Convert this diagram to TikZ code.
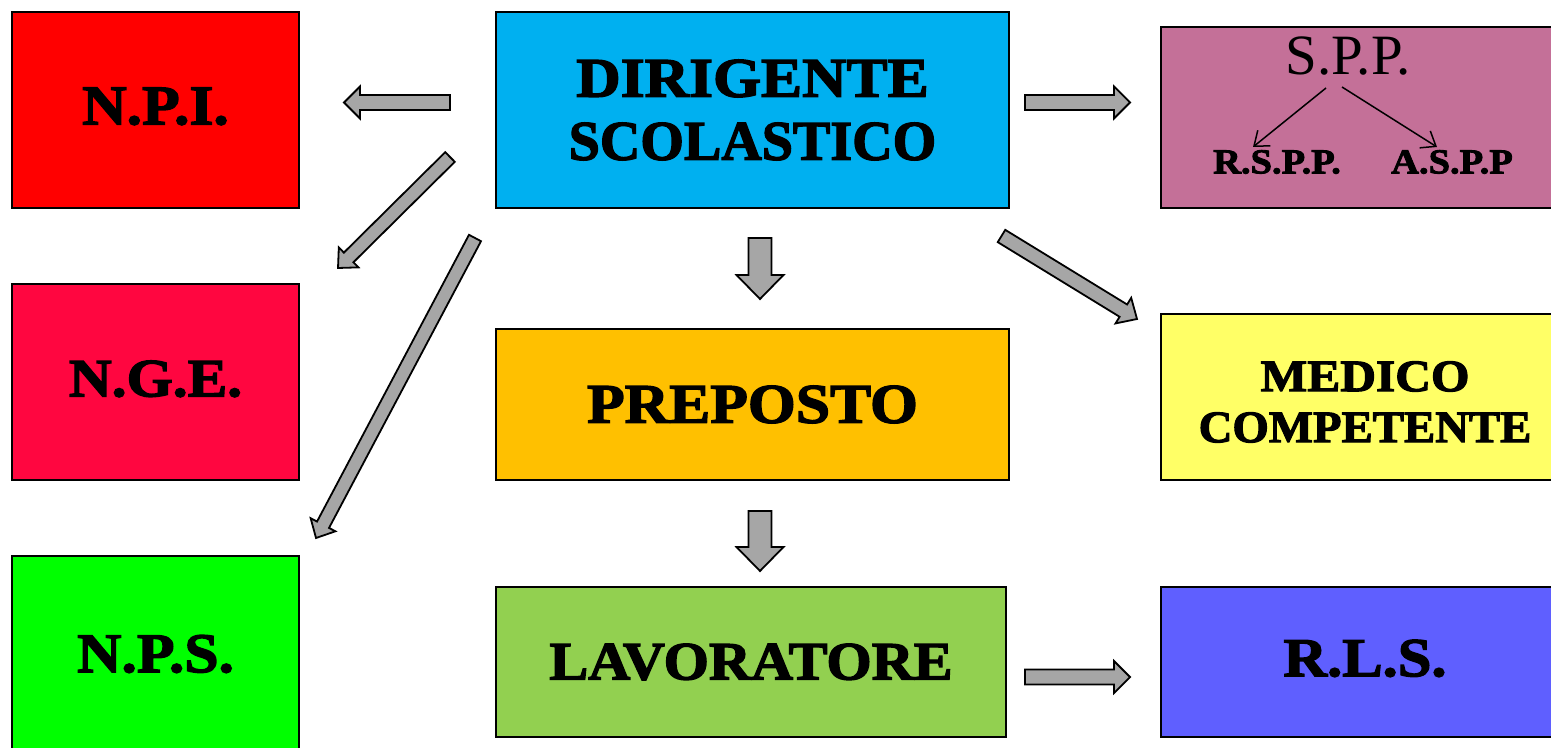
\documentclass[tikz,border=0pt]{standalone}
\usepackage{fontspec}
\setmainfont{Liberation Serif}
\newfontfamily\stencil{Liberation Serif}[UprightFont=* Bold, FakeBold=2.5, FakeStretch=1.1]
\usetikzlibrary{calc,arrows.meta}
\definecolor{cnpi}{HTML}{FF0000}
\definecolor{cnge}{HTML}{FF0640}
\definecolor{cnps}{HTML}{00FF00}
\definecolor{cdir}{HTML}{00B0F0}
\definecolor{cpre}{HTML}{FFC000}
\definecolor{clav}{HTML}{92D050}
\definecolor{cspp}{HTML}{C47098}
\definecolor{cmed}{HTML}{FFFF66}
\definecolor{crls}{HTML}{5F5FFF}
\definecolor{agray}{HTML}{A6A6A6}
\tikzset{
  box/.style={draw=black, line width=1pt, inner sep=0pt, align=center},
  stxt/.style={font=\stencil\fontsize{#1}{#1}\selectfont},
  fatarr/.style={draw=black, line width=0.9pt, fill=agray, line join=miter},
  thinarr/.style={draw=black, line width=0.75pt, -{Straight Barb[length=6.5pt,width=10pt]}}
}
% #1 start, #2 tip, #3 shaft half width, #4 head half width, #5 head length
\newcommand\fatarrow[5]{%
  \coordinate (#1-neck) at ($(#2)!#5!(#1)$);
  \draw[fatarr] ($(#1)!#3!90:(#2)$) -- ($(#1-neck)!#3!90:(#2)$) -- ($(#1-neck)!#4!90:(#2)$)
    -- (#2) -- ($(#1-neck)!#4!-90:(#2)$) -- ($(#1-neck)!#3!-90:(#2)$) -- ($(#1)!#3!-90:(#2)$) -- cycle;
}
\begin{document}
\begin{tikzpicture}[x=0.5pt,y=-0.5pt]
\useasboundingbox (0,0) rectangle (1551,748);
% boxes
\node[box, fill=cnpi, minimum width=143.5pt, minimum height=98pt, stxt=28, text depth=4pt] (npi) at (155.5,110) {N.P.I.};
\node[box, fill=cnge, minimum width=143.5pt, minimum height=98pt, stxt=27, text depth=3.5pt] (nge) at (155.5,382) {N.G.E.};
\node[box, fill=cnps, minimum width=143.5pt, minimum height=98pt, stxt=28] (nps) at (155.5,654) {N.P.S.};
\node[box, fill=cdir, minimum width=256.5pt, minimum height=98pt, stxt=28] (dir) at (752.5,110) {DIRIGENTE\\[3.5pt]\scalebox{0.91}[1]{SCOLASTICO}};
\node[box, fill=cpre, minimum width=256.5pt, minimum height=75.5pt, stxt=28] (pre) at (752.5,404.5) {PREPOSTO};
\node[box, fill=clav, minimum width=255pt, minimum height=75pt, stxt=27] (lav) at (751,662) {\scalebox{0.98}[1]{LAVORATORE}};
\node[box, fill=cspp, minimum width=204pt, minimum height=90.5pt] (spp) at (1365,117.5) {};
\node[box, fill=cmed, minimum width=204pt, minimum height=83pt] (med) at (1365,397) {};
\node[inner sep=0pt, align=center, stxt=22.5] (medtxt) at (1365,402) {MEDICO\\[3pt]\scalebox{0.945}[1]{COMPETENTE}};
\node[box, fill=crls, minimum width=204pt, minimum height=75pt, stxt=27.5, text depth=4pt] (rls) at (1365,662) {R.L.S.};
% S.P.P. contents
\node[inner sep=0pt, font=\fontsize{28.5}{30}\selectfont] (spptitle) at (1348,56) {S.P.P.};
\node[inner sep=0pt, stxt=17.5] (rspp) at (1277,162) {R.S.P.P.};
\node[inner sep=0pt, stxt=17.5] (aspp) at (1452,162) {A.S.P.P};
\coordinate (s1a) at (1326,88); \coordinate (s1b) at (1253,147);
\coordinate (s2a) at (1342,87); \coordinate (s2b) at (1437,147);
\draw[thinarr] (s1a) -- (s1b);
\draw[thinarr] (s2a) -- (s2b);
% fat arrows
\coordinate (a1s) at (450,102.5); \coordinate (a1e) at (344,102.5);
\coordinate (a2s) at (450,157); \coordinate (a2e) at (338,268);
\coordinate (a3s) at (475,238); \coordinate (a3e) at (316,538);
\coordinate (a4s) at (760,238); \coordinate (a4e) at (760,299);
\coordinate (a5s) at (760,511); \coordinate (a5e) at (760,571);
\coordinate (a6s) at (1025,102.5); \coordinate (a6e) at (1130,102.5);
\coordinate (a7s) at (1001.5,236); \coordinate (a7e) at (1137,319);
\coordinate (a8s) at (1025,677); \coordinate (a8e) at (1130,677);
\fatarrow{a1s}{a1e}{3.75pt}{8pt}{8pt}
\fatarrow{a2s}{a2e}{3.4pt}{7pt}{7.5pt}
\fatarrow{a3s}{a3e}{3.4pt}{7pt}{7.5pt}
\fatarrow{a4s}{a4e}{5.75pt}{11.75pt}{12pt}
\fatarrow{a5s}{a5e}{5.75pt}{11.75pt}{12pt}
\fatarrow{a6s}{a6e}{3.75pt}{8pt}{8pt}
\fatarrow{a7s}{a7e}{3.6pt}{7.5pt}{8pt}
\fatarrow{a8s}{a8e}{3.75pt}{8pt}{8pt}
\end{tikzpicture}
\end{document}
